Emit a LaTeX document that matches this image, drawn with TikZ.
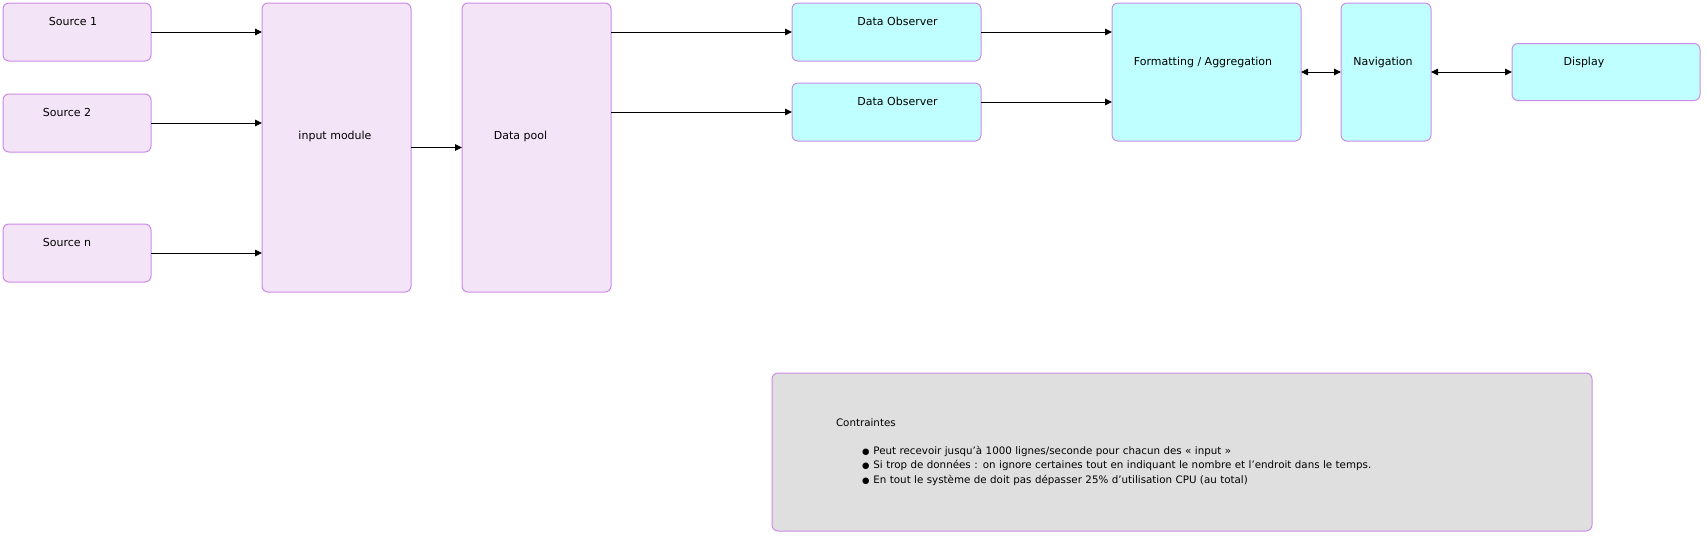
\documentclass[tikz,border=0pt]{standalone}
\usepackage{fontspec}
\setmainfont{DejaVu Sans}
\usetikzlibrary{positioning,arrows.meta}
\definecolor{lilac}{HTML}{F3E5F7}
\definecolor{lilacline}{HTML}{CC8BE6}
\definecolor{aqua}{HTML}{C0FFFF}
\definecolor{notegray}{HTML}{DFDFDF}
\newcommand{\puce}{\hspace*{26pt}{\fontsize{8.5}{8}\selectfont ●}\hspace{4pt}}
\newcommand{\nudge}[2]{\hspace*{#1}#2\hspace*{-#1}}

\begin{document}
\begin{tikzpicture}[x=1pt, y=-1pt,
    block/.style={
      draw=lilacline, line width=1pt, rounded corners=1.1ex, inner sep=0pt,
      outer sep=0pt, text centered, font=\fontsize{11}{12}\selectfont
    },
    source/.style={block, fill=lilac},
    target/.style={block, fill=aqua},
    small/.style={minimum width=148pt, text height=22.5pt, text depth=35.5pt},
    wide/.style={minimum width=189pt, text height=22.5pt, text depth=35.5pt},
    tall/.style={minimum width=149pt, text height=136.5pt, text depth=152.5pt},
    high/.style={text height=62.5pt, text depth=75.5pt},
    note/.style={block, fill=notegray, align=left, text width=692pt, inner xsep=64pt,
      minimum width=820pt, minimum height=158pt, font=\fontsize{10.3}{14.5}\selectfont},
    link/.style={-{Triangle[length=7pt,width=6.5pt]}, line width=0.9pt},
    dlink/.style={{Triangle[length=7pt,width=6.5pt]}-{Triangle[length=7pt,width=6.5pt]}, line width=0.9pt},
  ]
    \useasboundingbox (0,0) rectangle (1706,536);

    \node[source, small, anchor=north west](src1) at (3,3) {\nudge{-4pt}{Source 1}};
    \node[source, small, below=33pt of src1](src2){\nudge{-10pt}{Source 2}};
    \node[source, small, below=72pt of src2](srcn){\nudge{-10pt}{Source n}};

    \node[source, tall, right=111pt of src1.north east, anchor=north west](inmod){\nudge{-1.5pt}{input module}};
    \node[source, tall, right=51pt of inmod.north east, anchor=north west](pool){\nudge{-16pt}{Data pool}};

    \node[target, wide, right=181pt of pool.north east, anchor=north west](obs1){\nudge{11pt}{Data Observer}};
    \node[target, wide, below=22pt of obs1](obs2){\nudge{11pt}{Data Observer}};

    \node[target, high, minimum width=189pt, right=131pt of obs1.north east, anchor=north west](fmt){\nudge{-3.5pt}{Formatting / Aggregation}};
    \node[target, high, minimum width=90pt, right=40pt of fmt](nav){\nudge{-3pt}{Navigation}};
    \node[target, minimum width=188pt, text height=21.5pt, text depth=35.5pt, right=81pt of nav](disp){\nudge{-22pt}{Display}};

    \node[note, anchor=north west](notes) at (772,373){
      Contraintes\\[13pt]
      \puce Peut recevoir jusqu'à 1000 lignes/seconde pour chacun des « input »\\
      \puce Si trop de données : on ignore certaines tout en indiquant le nombre et l'endroit dans le temps.\\
      \puce En tout le système de doit pas dépasser 25\% d'utilisation CPU (au total)
    };

    \draw[link] (src1) -- (src1 -| inmod.west);
    \draw[link] (src2) -- (src2 -| inmod.west);
    \draw[link] (srcn) -- (srcn -| inmod.west);
    \draw[link] (inmod) -- (pool);
    \draw[link] (obs1 -| pool.east) -- (obs1);
    \draw[link] (obs2 -| pool.east) -- (obs2);
    \draw[link] (obs1) -- (obs1 -| fmt.west);
    \draw[link] ([yshift=10pt]obs2.east) -- ([yshift=10pt]obs2.east -| fmt.west);
    \draw[dlink] (fmt) -- (nav);
    \draw[dlink] (nav) -- (disp);

  \end{tikzpicture}
\end{document}
